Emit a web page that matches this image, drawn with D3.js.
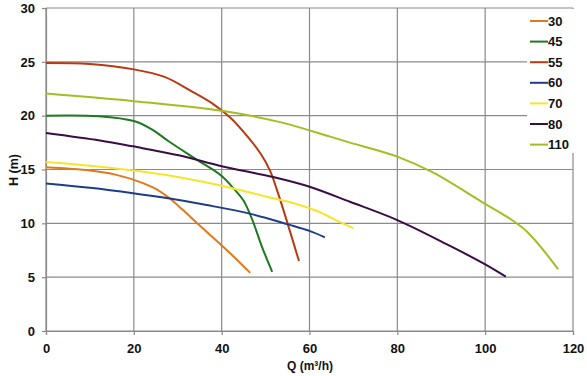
<!DOCTYPE html>
<html>
<head>
<meta charset="utf-8">
<script src="https://cdn.jsdelivr.net/npm/d3@7"></script>
<style>
  body { margin: 0; background: #fff; }
  text { font-family: "Liberation Sans", Arial, sans-serif; font-weight: bold; }
</style>
</head>
<body>
<div id="chart"></div>
<script>
// Series names and colours (legend order)
const seriesNames = ["30", "45", "55", "60", "70", "80", "110"];
const seriesColors = ["#e07a1c", "#1f7a1f", "#b83a12", "#1f3c88", "#f3e62c", "#3a0d45", "#a3bd22"];

// Q (m³/h) and H (m) points
const q30 = [0, 10, 16, 21, 25, 28.2, 31, 35, 39.6, 43, 46.5];
const h30 = [15.2, 14.9, 14.5, 13.9, 13.2, 12.3, 11.3, 9.8, 8.1, 6.8, 5.4];

const q45 = [0, 12, 20, 24, 28, 34.4, 40, 43, 45, 47, 49.2, 51.5];
const h45 = [20.0, 19.95, 19.5, 18.75, 17.6, 15.9, 14.4, 13.1, 12.1, 10.3, 7.8, 5.5];

const q55 = [0, 10, 20, 27, 33, 38, 42, 46, 49, 51, 53, 55, 57.6];
const h55 = [24.9, 24.8, 24.3, 23.6, 22.3, 21.1, 19.8, 18.0, 16.4, 14.9, 12.6, 10.0, 6.5];

const q60 = [0, 10, 19.8, 28.2, 36.6, 46.4, 55.1, 60, 63.5];
const h60 = [13.7, 13.3, 12.8, 12.3, 11.7, 10.9, 9.9, 9.3, 8.7];

const q70 = [0, 10, 20, 30, 40, 50, 57, 62, 66, 70];
const h70 = [15.7, 15.35, 14.9, 14.3, 13.5, 12.5, 11.8, 11.1, 10.3, 9.55];

const q80 = [0, 12.3, 19.8, 30.5, 40, 51.7, 60, 69.2, 80, 92, 99.5, 104.7];
const h80 = [18.4, 17.7, 17.15, 16.3, 15.3, 14.3, 13.4, 12.0, 10.3, 7.9, 6.3, 5.05];

const q110 = [0, 20, 40, 53.3, 64.7, 69.2, 80, 88.2, 99.6, 105, 109.6, 116.6];
const h110 = [22.05, 21.35, 20.45, 19.4, 18.05, 17.5, 16.2, 14.7, 11.9, 10.6, 9.2, 5.75];

const seriesQ = [q30, q45, q55, q60, q70, q80, q110];
const seriesH = [h30, h45, h55, h60, h70, h80, h110];

const xTicks = [0, 20, 40, 60, 80, 100, 120];
const yTicks = [0, 5, 10, 15, 20, 25, 30];

// Layout
const width = 587, height = 376;
const margin = { top: 8, right: 14, bottom: 45, left: 46 };
const innerW = width - margin.left - margin.right;
const innerH = height - margin.top - margin.bottom;

const svg = d3.select("#chart")
  .append("svg")
  .attr("width", width)
  .attr("height", height);

const g = svg.append("g")
  .attr("transform", `translate(${margin.left},${margin.top})`);

const x = d3.scaleLinear().domain([0, 120]).range([0, innerW]);
const y = d3.scaleLinear().domain([0, 30]).range([innerH, 0]);

// Grid lines
g.append("g")
  .selectAll("line")
  .data(yTicks)
  .join("line")
  .attr("x1", 0).attr("x2", innerW)
  .attr("y1", d => y(d)).attr("y2", d => y(d))
  .attr("stroke", "#8a8a8a")
  .attr("stroke-width", 1.2);

g.append("g")
  .selectAll("line")
  .data(xTicks)
  .join("line")
  .attr("x1", d => x(d)).attr("x2", d => x(d))
  .attr("y1", 0).attr("y2", innerH)
  .attr("stroke", "#8a8a8a")
  .attr("stroke-width", 1.2);

// Axes
const xAxis = g.append("g")
  .attr("transform", `translate(0,${innerH})`)
  .call(d3.axisBottom(x).tickValues(xTicks).tickSize(4).tickPadding(9));
const yAxis = g.append("g")
  .call(d3.axisLeft(y).tickValues(yTicks).tickSize(4).tickPadding(7));

[xAxis, yAxis].forEach(a => {
  a.select(".domain").attr("stroke", "#8a8a8a").attr("stroke-width", 1.2);
  a.selectAll(".tick line").attr("stroke", "#8a8a8a").attr("stroke-width", 1.2);
  a.selectAll(".tick text")
    .attr("fill", "#111")
    .style("font-size", "13px")
    .style("font-weight", "bold")
    .style("font-family", "'Liberation Sans', Arial, sans-serif");
});

// Curves
const line = d3.line()
  .x(d => x(d[0]))
  .y(d => y(d[1]))
  .curve(d3.curveCatmullRom.alpha(0.5));

seriesNames.forEach((name, i) => {
  const pts = seriesQ[i].map((q, j) => [q, seriesH[i][j]]);
  g.append("path")
    .datum(pts)
    .attr("fill", "none")
    .attr("stroke", seriesColors[i])
    .attr("stroke-width", 2)
    .attr("stroke-linejoin", "round")
    .attr("d", line);
});

// Legend (white box over the grid, top right)
const legend = svg.append("g");
legend.append("rect")
  .attr("x", 527).attr("y", 9)
  .attr("width", 60).attr("height", 144)
  .attr("fill", "#fff");

seriesNames.forEach((name, i) => {
  const ly = 21 + i * 20.6;
  legend.append("line")
    .attr("x1", 530).attr("x2", 548)
    .attr("y1", ly).attr("y2", ly)
    .attr("stroke", seriesColors[i])
    .attr("stroke-width", 2);
  legend.append("text")
    .attr("x", 548)
    .attr("y", ly + 4.5)
    .attr("fill", "#111")
    .style("font-size", "13px")
    .text(name);
});

// Axis titles
svg.append("text")
  .attr("x", 310)
  .attr("y", 370)
  .attr("text-anchor", "middle")
  .attr("fill", "#111")
  .style("font-size", "12px")
  .text("Q (m³/h)");

svg.append("text")
  .attr("transform", "translate(18,170) rotate(-90)")
  .attr("text-anchor", "middle")
  .attr("fill", "#111")
  .style("font-size", "12.5px")
  .text("H (m)");
</script>
</body>
</html>
